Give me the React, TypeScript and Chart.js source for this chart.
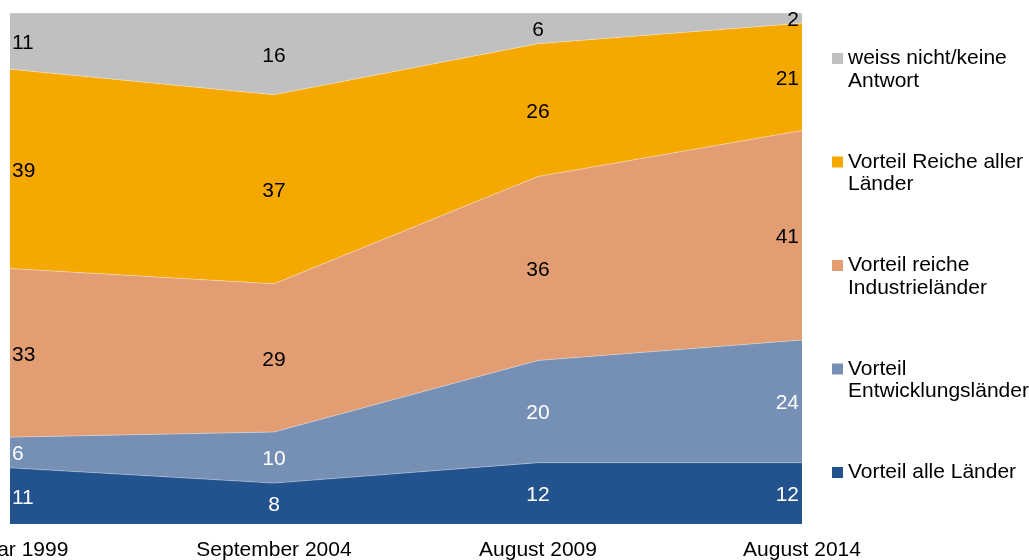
import React, { useEffect, useRef } from "react";
import { Chart, registerables } from "chart.js";

Chart.register(...registerables);

const categories = ["Januar 1999", "September 2004", "August 2009", "August 2014"];

const alleLaender = [11, 8, 12, 12];
const entwicklungslaender = [6, 10, 20, 24];
const reicheIndustrielaender = [33, 29, 36, 41];
const reicheAllerLaender = [39, 37, 26, 21];
const weissNicht = [11, 16, 6, 2];

const seriesNames = [
  "Vorteil alle Länder",
  "Vorteil Entwicklungsländer",
  "Vorteil reiche Industrieländer",
  "Vorteil Reiche aller Länder",
  "weiss nicht/keine Antwort",
];
const legendLines = [
  ["Vorteil alle Länder"],
  ["Vorteil", "Entwicklungsländer"],
  ["Vorteil reiche", "Industrieländer"],
  ["Vorteil Reiche aller", "Länder"],
  ["weiss nicht/keine", "Antwort"],
];
const seriesColors = ["#23538E", "#768FB4", "#E29E72", "#F5A800", "#C0C0C0"];
const labelColors = ["#FFFFFF", "#FFFFFF", "#000000", "#000000", "#000000"];

const FONT = "'Liberation Sans', Arial, sans-serif";

const labelsPlugin = {
  id: "bandLabels",
  afterDatasetsDraw(chart: any) {
    const ctx = chart.ctx;
    const y = chart.scales.y;
    const area = chart.chartArea;
    ctx.save();
    ctx.font = `21px ${FONT}`;
    ctx.textBaseline = "middle";
    const n = chart.data.labels.length;
    for (let j = 0; j < n; j++) {
      let cum = 0;
      chart.data.datasets.forEach((ds: any, i: number) => {
        const v = ds.data[j];
        const yTop = y.getPixelForValue(cum + v);
        const yBot = y.getPixelForValue(cum);
        cum += v;
        const meta = chart.getDatasetMeta(i);
        const px = meta.data[j].x;
        let x = px;
        if (j === 0) {
          ctx.textAlign = "left";
          x = area.left + 2;
        } else if (j === n - 1) {
          ctx.textAlign = "right";
          x = area.right - 3;
        } else {
          ctx.textAlign = "center";
        }
        ctx.fillStyle = labelColors[i];
        ctx.fillText(String(v), x, (yTop + yBot) / 2 + 2);
      });
    }
    ctx.restore();
  },
};

const legendPlugin = {
  id: "sideLegend",
  afterDraw(chart: any) {
    const ctx = chart.ctx;
    ctx.save();
    ctx.font = `21px ${FONT}`;
    ctx.textBaseline = "middle";
    ctx.textAlign = "left";
    const order = [4, 3, 2, 1, 0];
    order.forEach((idx, k) => {
      const y0 = 58.5 + k * 103.5;
      ctx.fillStyle = seriesColors[idx];
      ctx.fillRect(832, y0 - 5.5, 11, 11);
      ctx.fillStyle = "#000000";
      legendLines[idx].forEach((line, li) => {
        ctx.fillText(line, 848, y0 + li * 22.5);
      });
    });
    ctx.restore();
  },
};

export default function App() {
  const ref = useRef<HTMLCanvasElement | null>(null);

  useEffect(() => {
    if (!ref.current) return;
    Chart.defaults.font.family = FONT;
    const series = [alleLaender, entwicklungslaender, reicheIndustrielaender, reicheAllerLaender, weissNicht];
    const chart = new Chart(ref.current, {
      type: "line",
      data: {
        labels: categories,
        datasets: series.map((d, i) => ({
          label: seriesNames[i],
          data: d,
          backgroundColor: seriesColors[i],
          borderColor: "rgba(255,255,255,0.35)",
          borderWidth: 1,
          fill: i === 0 ? "origin" : "-1",
          pointRadius: 0,
          tension: 0,
        })),
      },
      options: {
        responsive: false,
        animation: false,
        layout: { padding: { left: 10, right: 227, top: 13, bottom: 0 } },
        plugins: {
          legend: { display: false },
          tooltip: { enabled: false },
          title: { display: false },
        },
        scales: {
          x: {
            type: "category",
            offset: false,
            grid: { display: false, drawTicks: false },
            border: { display: false },
            ticks: {
              color: "#000000",
              font: { size: 21, lineHeight: 1.15 },
              padding: 14,
              maxRotation: 0,
              autoSkip: false,
            },
            afterFit: (s: any) => {
              s.paddingLeft = 0;
              s.paddingRight = 0;
              s.height = 36;
            },
          },
          y: {
            display: false,
            stacked: true,
            min: 0,
            max: 100,
          },
        },
      },
      plugins: [labelsPlugin, legendPlugin],
    });
    return () => chart.destroy();
  }, []);

  return (
    <div style={{ position: "absolute", left: 0, top: 0, width: 1029, height: 560, background: "#fff" }}>
      <canvas ref={ref} width={1029} height={560} style={{ display: "block" }} />
    </div>
  );
}
